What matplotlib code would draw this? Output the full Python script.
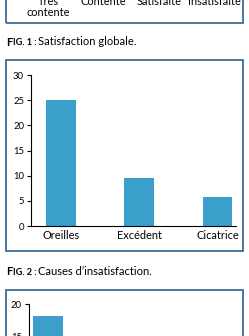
import matplotlib
matplotlib.use('Agg')
import matplotlib.pyplot as plt
from matplotlib.patches import Rectangle

plt.rcParams['font.family'] = ['Lato', 'DejaVu Sans']

# data
top_labels = ['Très\ncontente', 'Contente', 'Satisfaite', 'Insatisfaite']
causes = ['Oreilles', 'Excédent', 'Cicatrice']
causes_values = [25, 9.5, 5.8]
fig2_values = [18.2]
fig2_ticks = [15, 20]
fig1_ticks = [0, 5, 10, 15, 20, 25, 30]

BAR = '#3b9fcb'
BOX = '#3c6b96'
W, H = 249, 336


def px(x0, y0, x1, y1):
    # pixel box (top-left origin) -> figure fraction [l, b, w, h]
    return [x0 / W, 1 - y1 / H, (x1 - x0) / W, (y1 - y0) / H]


fig = plt.figure(figsize=(W / 100, H / 100), dpi=100)
fig.patch.set_facecolor('white')

# frames around the figures
for (x0, y0, x1, y1) in [(5.5, -40, 242.7, 23), (5.5, 60, 242.7, 251), (5.5, 289.5, 242.7, 400)]:
    fig.add_artist(Rectangle((x0 / W, 1 - y1 / H), (x1 - x0) / W, (y1 - y0) / H,
                             transform=fig.transFigure, fill=False,
                             edgecolor=BOX, linewidth=1.3))

# chart cut at the top (only its category labels visible)
ax0 = fig.add_axes(px(20.25, -200, 242.25, -8))
ax0.set_xlim(-0.5, 3.5)
ax0.set_xticks(range(len(top_labels)))
ax0.set_xticklabels(top_labels, fontsize=7.9, linespacing=0.95)
ax0.tick_params(axis='x', length=0, pad=3)
ax0.set_yticks([])
for s in ax0.spines.values():
    s.set_visible(False)
ax0.patch.set_visible(False)

# Fig. 2 chart (causes)
ax1 = fig.add_axes(px(31, 75, 235.7, 226))
ax1.bar(range(len(causes)), causes_values, width=0.378, color=BAR)
ax1.set_xlim(-0.379, 2.232)
ax1.set_ylim(0, 30)
ax1.set_yticks(fig1_ticks)
ax1.set_xticks(range(len(causes)))
ax1.set_xticklabels(causes, fontsize=7.9)
ax1.tick_params(axis='x', length=0, pad=3)
ax1.tick_params(axis='y', length=3, width=0.8, labelsize=6.8, pad=2)
ax1.spines['top'].set_visible(False)
ax1.spines['right'].set_visible(False)
for s in ['left', 'bottom']:
    ax1.spines[s].set_linewidth(0.8)

# Fig. 3 chart, mostly cut off
ax2 = fig.add_axes(px(28.7, 304, 236, 304 + 20 * 6.5))
ax2.bar([0], fig2_values, width=0.383, color=BAR)
ax2.set_xlim(-0.25, 2.39)
ax2.set_ylim(0, 20)
ax2.set_yticks(fig2_ticks)
ax2.set_xticks([])
ax2.tick_params(axis='y', length=3, width=0.8, labelsize=6.8, pad=2)
ax2.spines['top'].set_visible(False)
ax2.spines['right'].set_visible(False)
ax2.spines['bottom'].set_visible(False)
ax2.spines['left'].set_linewidth(0.8)


def caption(y, num, txt):
    t1 = fig.text(6 / W, 1 - y / H, 'F', fontsize=8, fontweight='bold', va='baseline')
    t2 = ax1.annotate('IG. ' + num + ' :', xy=(1, 0), xycoords=t1, xytext=(0.3, 1.6),
                      textcoords='offset points', fontsize=6.6, fontweight='bold',
                      va='baseline', annotation_clip=False)
    ax1.annotate(txt, xy=(1, 0), xycoords=t2, xytext=(1.5, 1.3),
                 textcoords='offset points', fontsize=8, va='baseline',
                 annotation_clip=False)


caption(45.5, '1', 'Satisfaction globale.')
caption(275, '2', 'Causes d’insatisfaction.')

fig.savefig('out.png', dpi=100)
